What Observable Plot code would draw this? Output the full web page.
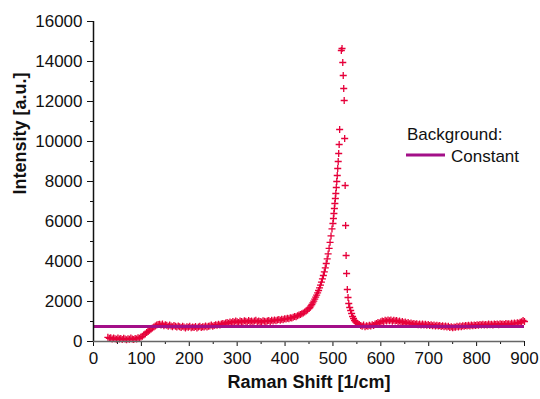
<!DOCTYPE html>
<html>
<head>
<meta charset="utf-8">
<script src="https://cdn.jsdelivr.net/npm/d3@7"></script>
<script src="https://cdn.jsdelivr.net/npm/@observablehq/plot@0.6"></script>
<style>
  html, body { margin: 0; padding: 0; background: #fff; }
</style>
</head>
<body>
<div id="chart"></div>
<script>
// Raman shift [1/cm]
const shift = [
  30,33,36,39,42,45,48,51,54,57,60,63,66,69,72,75,78,81,84,87,90,93,96,
  99,102,105,108,111,114,117,120,123,126,129,132,135,
  138,141,144,147,150,153,156,159,162,165,168,171,174,177,180,183,186,189,192,195,198,201,204,207,210,213,216,219,222,225,228,231,234,237,240,
  243,246,249,252,255,258,261,264,267,270,273,276,279,282,285,288,291,294,297,300,303,306,309,312,315,318,321,324,327,330,333,336,339,342,345,348,351,354,357,360,
  363,366,369,372,375,378,381,384,387,390,393,396,399,402,405,408,411,414,417,420,423,426,429,432,435,438,441,444,447,450,
  452,454,456,458,460,462,464,466,468,470,472,474,476,478,480,482,484,486,488,490,492,494,496,498,
  500,501,502,503,504,505,506,507,508,509,510,511,512,513,514,
  517.5,519,520.5,521.5,522.5,523.5,524.5,525.5,526.5,527.5,528.5,530,531.5,533,535,537,539,541,543,545,547,549,
  552,555,558,561,564,567,570,573,576,579,582,585,588,591,594,597,600,603,606,609,612,615,618,621,624,627,630,633,636,639,642,645,648,651,654,657,660,663,666,669,672,675,678,681,684,687,690,693,696,699,
  702,705,708,711,714,717,720,723,726,729,732,735,738,741,744,747,750,753,756,759,762,765,768,771,774,777,780,783,786,789,792,795,798,
  801,804,807,810,813,816,819,822,825,828,831,834,837,840,843,846,849,852,855,858,861,864,867,870,873,876,879,882,885,888,891,894,897,900
];
// Intensity [a.u.]
const intensity = [
  210,160,190,120,170,140,110,180,130,150,100,160,120,90,140,110,170,120,100,150,130,190,160,
  220,260,330,380,450,500,560,620,680,730,780,820,850,
  860,820,880,790,840,810,760,830,780,740,800,760,720,780,740,700,760,720,680,740,710,760,690,730,700,750,680,720,760,700,740,720,770,730,760,
  780,820,760,800,840,810,860,830,880,900,870,930,950,910,980,940,1000,960,1020,990,950,1030,1000,970,1040,1010,980,1050,1000,1030,970,1020,1060,990,1030,1000,970,1040,1010,990,
  1020,1050,1000,1060,1030,1080,1040,1070,1100,1060,1110,1090,1140,1120,1160,1140,1190,1180,1210,1250,1240,1290,1320,1350,1390,1420,1480,1520,1580,1650,
  1700,1780,1850,1930,2020,2120,2220,2320,2430,2550,2680,2820,2970,3130,3300,3480,3680,3900,4130,4380,4660,4960,5280,5630,
  5900,6150,6400,6650,6900,7150,7400,7700,8000,8300,8650,9000,9400,9850,10600,
  14550,14650,13950,13300,12650,12050,10150,7800,5800,4300,3400,2600,2200,1900,1700,1550,1400,1250,1150,1050,980,930,
  900,850,800,760,820,740,790,760,810,780,840,800,870,900,950,920,990,1030,1000,1060,1020,1080,1040,1070,1010,1060,1020,1050,990,1030,960,1000,940,970,910,950,890,920,870,900,860,890,840,880,830,870,820,860,810,850,
  800,840,790,830,780,810,770,800,750,790,740,770,720,760,700,740,690,730,710,760,730,770,740,790,760,800,770,810,780,830,790,820,800,
  840,810,850,820,860,830,850,820,870,840,860,830,880,850,870,840,890,860,880,850,900,870,890,860,910,880,920,890,940,910,960,990,1050,1000
];
const background = 750;
const yTicks = [0,2000,4000,6000,8000,10000,12000,14000,16000];
const yMinor = [1000,3000,5000,7000,9000,11000,13000,15000];
const xTicks = [0,100,200,300,400,500,600,700,800,900];
const xMinor = [50,150,250,350,450,550,650,750,850];
const xTitle = "Raman Shift [1/cm]";
const yTitle = "Intensity [a.u.]";
const legendTitle = "Background:";
const legendItem = "Constant";

const data = shift.map((s, i) => ({shift: s, intensity: intensity[i]}));
const FONT = "'Liberation Sans', Arial, Helvetica, sans-serif";
const plain = d => String(d);

const chart = Plot.plot({
  width: 540,
  height: 399,
  marginLeft: 93,
  marginRight: 16,
  marginTop: 21,
  marginBottom: 58,
  x: {domain: [0, 900]},
  y: {domain: [0, 16000]},
  style: {fontFamily: FONT, fontSize: "17px", color: "#111", background: "#fff"},
  marks: [
    Plot.dot(data, {x: "shift", y: "intensity", symbol: "plus", r: 2.4, stroke: "#e6003a", strokeWidth: 1.3}),
    Plot.ruleY([background], {stroke: "#a30f88", strokeWidth: 3}),
    Plot.axisY(yTicks, {tickSize: 6, tickPadding: 5, label: null, fontSize: 17, tickFormat: plain}),
    Plot.axisY(yMinor, {tickSize: 3, tickFormat: () => "", label: null}),
    Plot.axisX(xTicks, {tickSize: 5, tickPadding: 5, label: null, fontSize: 17, tickFormat: plain}),
    Plot.axisX(xMinor, {tickSize: 3, tickFormat: () => "", label: null}),
    Plot.ruleX([0], {stroke: "#111", strokeWidth: 1.5}),
    Plot.ruleY([0], {stroke: "#666", strokeWidth: 1.5}),
    Plot.text([xTitle], {text: d => d, frameAnchor: "bottom", dy: 46, fontWeight: "bold", fontSize: 18, fill: "#111"}),
    Plot.text([yTitle], {text: d => d, frameAnchor: "left", rotate: -90, dx: -73, dy: 13, fontWeight: "bold", fontSize: 18, fill: "#111"})
  ]
});

const svg = d3.select(chart);
const lg = svg.append("g").attr("font-family", FONT).attr("font-size", 17)
  .attr("fill", "#111").attr("text-anchor", "start");
lg.append("text").attr("x", 407).attr("y", 140).text(legendTitle);
lg.append("line").attr("x1", 406).attr("x2", 445).attr("y1", 155).attr("y2", 155)
  .attr("stroke", "#a30f88").attr("stroke-width", 3);
lg.append("text").attr("x", 451).attr("y", 162).text(legendItem);

document.getElementById("chart").appendChild(chart);
</script>
</body>
</html>
